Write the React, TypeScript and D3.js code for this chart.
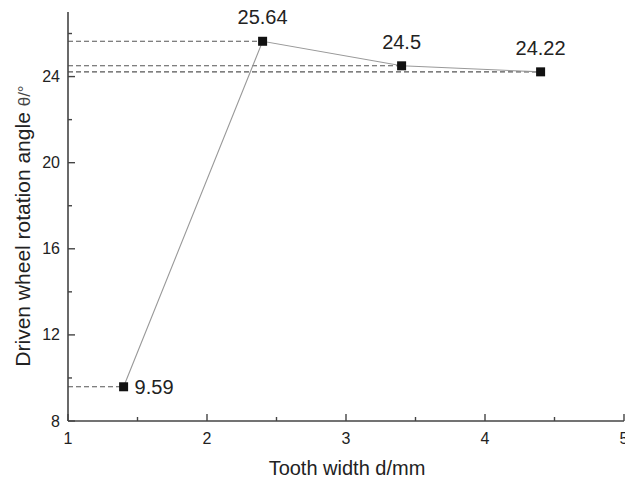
import React from "react";
import * as d3 from "d3";

const width = 625;
const height = 482;
const margin = { top: 12, right: 1, bottom: 61, left: 68 };

const toothWidth = [1.4, 2.4, 3.4, 4.4];
const angle = [9.59, 25.64, 24.5, 24.22];
const pointLabels = ["9.59", "25.64", "24.5", "24.22"];
const xTicks = [1, 2, 3, 4, 5];
const xMinor = [1.5, 2.5, 3.5, 4.5];
const yTicks = [8, 12, 16, 20, 24];
const yMinor = [10, 14, 18, 22, 26];

const font = "Arial, 'Liberation Sans', sans-serif";
const axisColor = "#444";

const App = () => {
  const x = d3
    .scaleLinear()
    .domain([1, 5])
    .range([margin.left, width - margin.right]);
  const y = d3
    .scaleLinear()
    .domain([8, 27])
    .range([height - margin.bottom, margin.top]);

  const line = d3
    .line<number>()
    .x((d, i) => x(toothWidth[i]))
    .y(d => y(d));

  const x0 = x(1);
  const y0 = y(8);

  return (
    <svg
      width={width}
      height={height}
      style={{ position: "absolute", left: 0, top: 0, background: "#fff" }}
      fontFamily={font}
    >
      {/* dashed guides to the y axis */}
      {angle.map((v, i) => (
        <line
          key={"g" + i}
          x1={x0}
          x2={x(toothWidth[i])}
          y1={y(v)}
          y2={y(v)}
          stroke="#555"
          strokeWidth={1.1}
          strokeDasharray="5,3"
        />
      ))}

      <path d={line(angle) || ""} fill="none" stroke="#999" strokeWidth={1.1} />

      {angle.map((v, i) => (
        <rect
          key={"m" + i}
          x={x(toothWidth[i]) - 4.5}
          y={y(v) - 4.5}
          width={9}
          height={9}
          fill="#111"
        />
      ))}

      {angle.map((v, i) =>
        i === 0 ? (
          <text
            key={"l" + i}
            x={x(toothWidth[i]) + 11}
            y={y(v)}
            dy="0.35em"
            fontSize={20}
            fill="#222"
          >
            {pointLabels[i]}
          </text>
        ) : (
          <text
            key={"l" + i}
            x={x(toothWidth[i])}
            y={y(v) - 17}
            textAnchor="middle"
            fontSize={20}
            fill="#222"
          >
            {pointLabels[i]}
          </text>
        )
      )}

      {/* axes */}
      <line x1={x0} x2={x0} y1={y(27)} y2={y0} stroke={axisColor} strokeWidth={1.6} />
      <line x1={x0} x2={x(5)} y1={y0} y2={y0} stroke={axisColor} strokeWidth={1.6} />

      {yTicks.map(t => (
        <g key={"yt" + t}>
          <line x1={x0} x2={x0 + 7} y1={y(t)} y2={y(t)} stroke={axisColor} strokeWidth={1.4} />
          <text x={x0 - 8} y={y(t)} dy="0.35em" textAnchor="end" fontSize={16} fill="#222">
            {t}
          </text>
        </g>
      ))}
      {yMinor.map(t => (
        <line key={"ym" + t} x1={x0} x2={x0 + 4} y1={y(t)} y2={y(t)} stroke={axisColor} strokeWidth={1.4} />
      ))}

      {xTicks.map(t => (
        <g key={"xt" + t}>
          <line x1={x(t)} x2={x(t)} y1={y0} y2={y0 - 7} stroke={axisColor} strokeWidth={1.4} />
          <text x={x(t)} y={y0 + 17} dy="0.35em" textAnchor="middle" fontSize={16} fill="#222">
            {t}
          </text>
        </g>
      ))}
      {xMinor.map(t => (
        <line key={"xm" + t} x1={x(t)} x2={x(t)} y1={y0} y2={y0 - 4} stroke={axisColor} strokeWidth={1.4} />
      ))}

      <text x={347} y={475} textAnchor="middle" fontSize={20} fill="#222">
        Tooth width d/mm
      </text>
      <text
        transform={`translate(23,226) rotate(-90)`}
        textAnchor="middle"
        dy="0.35em"
        fontSize={21}
        fill="#222"
      >
        Driven wheel rotation angle <tspan fontSize={17} fill="#444">θ/°</tspan>
      </text>
    </svg>
  );
};

export default App;
